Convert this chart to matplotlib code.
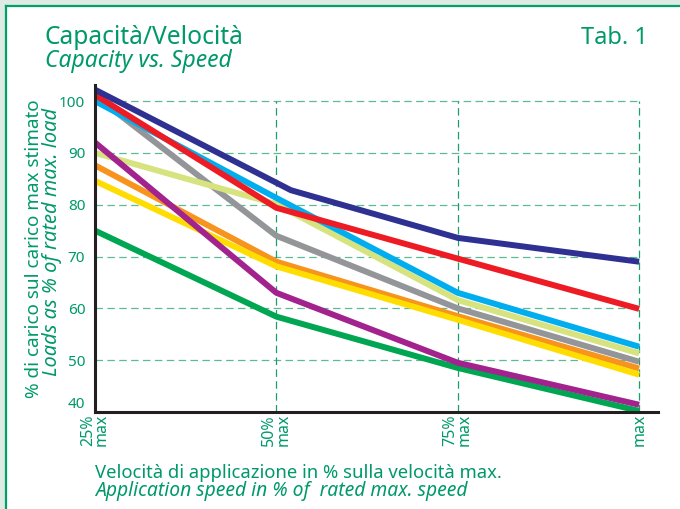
import matplotlib
matplotlib.use("Agg")
import matplotlib.pyplot as plt
from matplotlib.patches import Rectangle
from matplotlib.lines import Line2D

plt.rcParams['font.family'] = ['Noto Sans', 'DejaVu Sans']

# ---- data ----
speeds = [25, 50, 75, 100]
speeds_navy = [25, 52, 75, 100]
xtick_labels = ["25%\nmax", "50%\nmax", "75%\nmax", "max"]
yticks = [40, 50, 60, 70, 80, 90, 100]

navy = [102.2, 82.8, 73.6, 69.0]
red = [101.2, 79.4, 69.6, 59.9]
cyan = [100.0, 81.3, 63.0, 52.6]
gray = [101.0, 74.0, 60.0, 49.7]
lightgreen = [90.0, 80.1, 61.6, 51.3]
orange = [87.6, 69.0, 58.5, 48.4]
yellow = [84.6, 68.1, 57.8, 47.2]
purple = [92.0, 63.0, 49.5, 41.4]
green = [75.0, 58.4, 48.5, 40.2]

GREEN_TXT = '#00996a'
W, H = 680, 509

fig = plt.figure(figsize=(W / 100, H / 100), dpi=100, facecolor='#deebe4')
# white panel with green borders (left, top)
fig.patches.append(Rectangle((6 / W, 0), 1 - 6 / W, 1 - 6 / H, transform=fig.transFigure,
                             facecolor='white', edgecolor='none', zorder=-10))
fig.lines.append(Line2D([6 / W, 6 / W], [0, 1 - 6 / H], transform=fig.transFigure,
                        color='#00a06b', lw=1.6, zorder=-5))
fig.lines.append(Line2D([6 / W, 1], [1 - 6 / H, 1 - 6 / H], transform=fig.transFigure,
                        color='#00a06b', lw=1.6, zorder=-5))

ax = fig.add_axes([95 / W, 1 - 412 / H, (658 - 95) / W, (412 - 85) / H])
ax.set_facecolor('none')
ax.set_xlim(25, 102.6)
ax.set_ylim(40, 103.1)

# grid
dash = (0, (6, 3.5))
ax.hlines(yticks[1:], speeds[0], speeds[-1], colors='#5dbb94', lw=0.9, linestyles=dash, zorder=1)
ax.vlines(speeds[1:], yticks[0], yticks[-1], colors='#1a9e6a', lw=0.9, linestyles=dash, zorder=1)

lw = 4.3
kw = dict(lw=lw, solid_capstyle='butt', solid_joinstyle='round')
ax.plot(speeds, green, color='#00a651', zorder=3, **kw)
ax.plot(speeds, gray, color='#939598', zorder=3, **kw)
ax.plot(speeds, orange, color='#f7941d', zorder=3, **kw)
ax.plot(speeds, yellow, color='#ffdd00', zorder=3, **kw)
ax.plot(speeds, lightgreen, color='#d7e37f', zorder=3, **kw)
ax.plot(speeds, cyan, color='#00aeef', zorder=3, **kw)
ax.plot(speeds, red, color='#ed1c24', zorder=3, **kw)
ax.plot(speeds_navy, navy, color='#2e3192', zorder=3, **kw)
ax.plot(speeds, purple, color='#a3238e', zorder=3, **kw)

for s in ['top', 'right']:
    ax.spines[s].set_visible(False)
for s in ['left', 'bottom']:
    ax.spines[s].set_color('#231f20')
    ax.spines[s].set_linewidth(2.2)
    ax.spines[s].set_zorder(4)

ax.set_yticks(yticks)
ax.set_yticklabels([str(v) for v in yticks], color=GREEN_TXT, fontsize=11, fontweight='semibold')
ylabs = ax.get_yticklabels()
for lab in ylabs:
    lab.set_verticalalignment('center_baseline')
ylabs[0].set_verticalalignment('bottom')
ax.set_xticks(speeds)
ax.set_xticklabels(xtick_labels, rotation=90, color=GREEN_TXT, fontsize=11.5,
                   fontweight='semibold', ha='center', va='top', multialignment='left',
                   linespacing=0.85)
ax.tick_params(axis='both', length=0)
ax.tick_params(axis='y', pad=7)
ax.tick_params(axis='x', pad=1.5)

# titles
fig.text(45 / W, 1 - 44 / H, "Capacità/Velocità", color=GREEN_TXT, fontsize=17.7, va='baseline', ha='left')
fig.text(45 / W, 1 - 67 / H, "Capacity vs. Speed", color=GREEN_TXT, fontsize=16.5, style='italic',
         va='baseline', ha='left')
fig.text(648 / W, 1 - 44 / H, "Tab. 1", color=GREEN_TXT, fontsize=17, va='baseline', ha='right')

# y label
fig.text(34 / W, 1 - 249 / H, "% di carico sul carico max stimato", color=GREEN_TXT, fontsize=13.6,
         rotation=90, ha='center', va='center')
fig.text(52 / W, 1 - 242 / H, "Loads as % of rated max. load", color=GREEN_TXT, fontsize=14.4,
         style='italic', rotation=90, ha='center', va='center')

# x label
fig.text(95 / W, 1 - 478 / H, "Velocità di applicazione in % sulla velocità max.", color=GREEN_TXT,
         fontsize=13.3, va='baseline', ha='left')
fig.text(95 / W, 1 - 496 / H, "Application speed in % of  rated max. speed", color=GREEN_TXT,
         fontsize=13.9, style='italic', va='baseline', ha='left')

fig.savefig("out.png", dpi=100, facecolor=fig.get_facecolor())
